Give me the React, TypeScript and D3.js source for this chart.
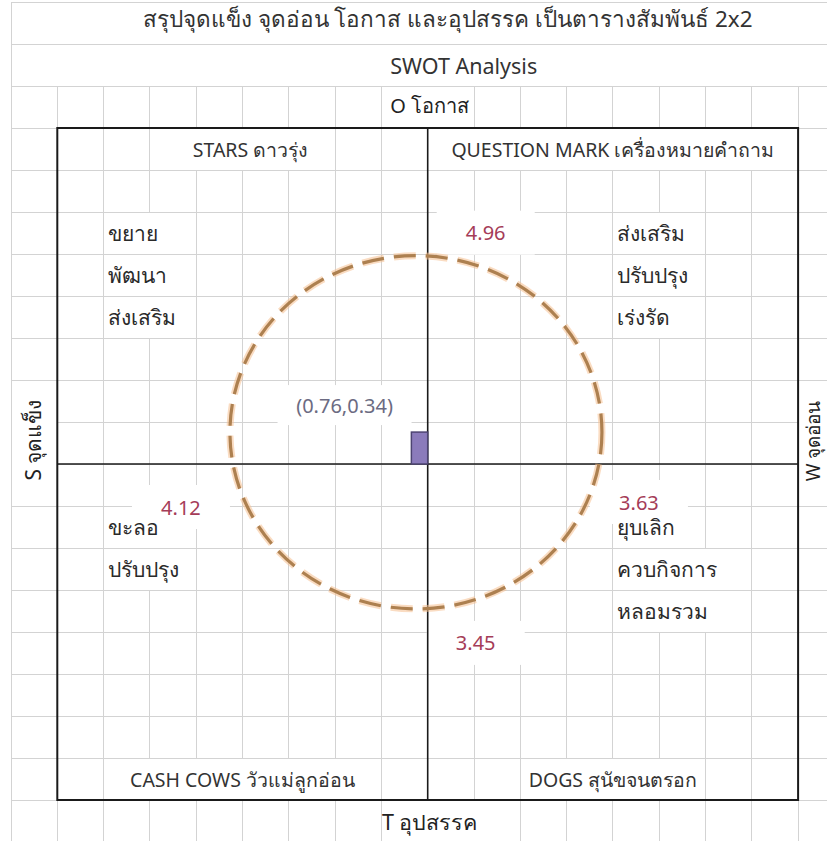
import React, { useEffect, useRef } from 'react';
import * as d3 from 'd3';

// SWOT scores
const axisKeys = ['S', 'W', 'O', 'T'];
const axisScores = [4.12, 3.63, 4.96, 3.45];
const pointValues = [0.76, 0.34];
const pointText = '(0.76,0.34)';

const titleTexts = ['สรุปจุดแข็ง จุดอ่อน โอกาส และอุปสรรค เป็นตารางสัมพันธ์ 2x2', 'SWOT Analysis'];
const axisNames = ['S จุดแข็ง', 'W จุดอ่อน', 'O โอกาส', 'T อุปสรรค'];
const quadrantNames = ['STARS ดาวรุ่ง', 'QUESTION MARK เครื่องหมายคำถาม', 'CASH COWS วัวแม่ลูกอ่อน', 'DOGS สุนัขจนตรอก'];
const strategies = [
  ['ขยาย', 'พัฒนา', 'ส่งเสริม'],
  ['ส่งเสริม', 'ปรับปรุง', 'เร่งรัด'],
  ['ขะลอ', 'ปรับปรุง'],
  ['ยุบเลิก', 'ควบกิจการ', 'หลอมรวม'],
];

const width = 827;
const height = 841;
const FONT = "Tahoma, 'Noto Sans', 'DejaVu Sans', sans-serif";

// spreadsheet grid
const nCols = 18, nRows = 20;
const colW = 46.3, rowH = 42;
const gridLeft = 11, gridTop = 2;
const unitX = 48; // px per chart unit horizontally

export default function App() {
  const ref = useRef<SVGSVGElement>(null);

  useEffect(() => {
    const node = ref.current;
    if (!node) return;
    const svg = d3.select(node);
    svg.selectAll('*').remove();

    const gx = d3.scaleLinear().domain([0, nCols]).range([gridLeft, gridLeft + nCols * colW]);
    const gy = d3.scaleLinear().domain([0, nRows]).range([gridTop, gridTop + nRows * rowH]);
    const midCol = 9, midRow = 11;
    const boxC = [1, 17], boxR = [3, 19];

    // chart scales (value 0 at the cross)
    const x = d3.scaleLinear().domain([-8, 8]).range([gx(midCol) - 8 * unitX, gx(midCol) + 8 * unitX]);
    const y = d3.scaleLinear().domain([-8, 8]).range([gy(boxR[1]), gy(boxR[0])]);

    const gridG = svg.append('g');
    const labelBoxG = svg.append('g');
    const boxG = svg.append('g');
    const chartG = svg.append('g');
    const labelG = svg.append('g');
    const textG = svg.append('g').attr('font-family', FONT);

    // ---- cell texts
    type Cell = { text: string; x: number; y: number; anchor: string; size: number; color: string; rot?: boolean; merged?: boolean };
    const cells: Cell[] = [];
    const rowMid = (r: number) => (gy(r) + gy(r + 1)) / 2;
    cells.push({ text: titleTexts[0], x: gx(midCol) + 20, y: rowMid(0) - 5, anchor: 'middle', size: 22.5, color: '#333', merged: true });
    cells.push({ text: titleTexts[1], x: gx(midCol) + 36, y: rowMid(1), anchor: 'middle', size: 21.5, color: '#333', merged: true });
    cells.push({ text: axisNames[2], x: gx(midCol) + 2, y: rowMid(2) - 2, anchor: 'middle', size: 20, color: '#222' });
    cells.push({ text: axisNames[3], x: gx(midCol) + 2, y: rowMid(boxR[1]), anchor: 'middle', size: 21.5, color: '#222' });
    cells.push({ text: axisNames[0], x: (gx(0) + gx(1)) / 2 - 1, y: gy(midRow) - 24, anchor: 'middle', size: 21, color: '#222', rot: true });
    cells.push({ text: axisNames[1], x: gx(boxC[1]) + 15, y: gy(midRow) - 23, anchor: 'middle', size: 19, color: '#222', rot: true });

    const qx = [gx(5) + 8, gx(13), gx(5), gx(13)];
    const qRow = [boxR[0], boxR[0], boxR[1] - 1, boxR[1] - 1];
    quadrantNames.forEach((q, i) => cells.push({ text: q, x: qx[i], y: rowMid(qRow[i]), anchor: 'middle', size: 19.5, color: '#333' }));

    const sCol = [2, 13, 2, 13];
    const sRow = [5, 5, 12, 12];
    strategies.forEach((list, i) => list.forEach((s, j) => cells.push({
      text: s, x: gx(sCol[i]) + 4, y: rowMid(sRow[i] + j), anchor: 'start', size: 21, color: '#2a2a2a',
    })));

    const textSel = textG.selectAll('text.cell').data(cells).join('text')
      .attr('class', 'cell')
      .attr('transform', d => `translate(${d.x},${d.y})${d.rot ? ' rotate(-90)' : ''}`)
      .attr('text-anchor', d => d.anchor)
      .attr('dominant-baseline', 'central')
      .attr('font-size', d => d.size)
      .attr('fill', d => d.color)
      .text(d => d.text);

    // ---- grid segments, hidden where text overflows across cells
    const hidden = new Set<string>();
    const base = node.getBoundingClientRect();
    textSel.each(function (d) {
      const b = (this as SVGTextElement).getBoundingClientRect();
      const l = b.left - base.left, r = b.right - base.left, t = b.top - base.top, bt = b.bottom - base.top;
      if (d.rot) {
        const c = Math.floor(gx.invert(d.x));
        for (let rr = 0; rr <= nRows; rr++) if (gy(rr) > t + 1 && gy(rr) < bt - 1) hidden.add(`h${c}_${rr}`);
      } else {
        const row = Math.floor(gy.invert(d.y));
        for (let k = 0; k <= nCols; k++) {
          if (d.merged ? k > 0 && k < nCols : gx(k) > l + 1 && gx(k) < r - 1) hidden.add(`v${k}_${row}`);
        }
      }
    });

    const vSegs = d3.cross(d3.range(nCols + 1), d3.range(nRows)).filter(([k, r]) => !hidden.has(`v${k}_${r}`));
    const hSegs = d3.cross(d3.range(nCols), d3.range(nRows + 1)).filter(([k, r]) => !hidden.has(`h${k}_${r}`));
    gridG.attr('stroke', '#d3d3d3').attr('stroke-width', 1).attr('shape-rendering', 'crispEdges');
    gridG.selectAll('line.v').data(vSegs).join('line').attr('class', 'v')
      .attr('x1', d => gx(d[0])).attr('x2', d => gx(d[0]))
      .attr('y1', d => gy(d[1])).attr('y2', d => gy(d[1] + 1));
    gridG.selectAll('line.h').data(hSegs).join('line').attr('class', 'h')
      .attr('x1', d => gx(d[0])).attr('x2', d => gx(d[0] + 1))
      .attr('y1', d => gy(d[1])).attr('y2', d => gy(d[1]));

    // ---- 2x2 box and cross
    boxG.append('rect')
      .attr('x', gx(boxC[0])).attr('y', gy(boxR[0]))
      .attr('width', gx(boxC[1]) - gx(boxC[0])).attr('height', gy(boxR[1]) - gy(boxR[0]))
      .attr('fill', 'none').attr('stroke', '#1a1a1a').attr('stroke-width', 2);
    boxG.append('line')
      .attr('x1', gx(midCol)).attr('x2', gx(midCol)).attr('y1', gy(boxR[0])).attr('y2', gy(boxR[1]))
      .attr('stroke', '#1a1a1a').attr('stroke-width', 1.6);
    boxG.append('line')
      .attr('x1', gx(boxC[0])).attr('x2', gx(boxC[1])).attr('y1', gy(midRow)).attr('y2', gy(midRow))
      .attr('stroke', '#1a1a1a').attr('stroke-width', 1.6);

    // ---- dashed oval through the four scores
    const [sS, sW, sO, sT] = axisScores;
    const cx = (sW - sS) / 2, cy = (sO - sT) / 2;
    const rx = (sS + sW) / 2, ry = (sO + sT) / 2;
    const ell = (g: any) => g.attr('cx', x(cx)).attr('cy', y(cy))
      .attr('rx', x(rx) - x(0)).attr('ry', y(0) - y(ry)).attr('fill', 'none');
    chartG.append('ellipse').call(ell)
      .attr('stroke', '#f6c08f').attr('stroke-opacity', 0.55).attr('stroke-width', 7)
      .attr('stroke-dasharray', '22 10');
    chartG.append('ellipse').call(ell)
      .attr('stroke', '#ad8050').attr('stroke-width', 3.2)
      .attr('stroke-dasharray', '22 10');

    // ---- point marker
    chartG.append('rect')
      .attr('x', x(-pointValues[1])).attr('y', y(pointValues[0]))
      .attr('width', x(0) - x(-pointValues[1])).attr('height', y(0) - y(pointValues[0]))
      .attr('fill', '#8b7bbb').attr('stroke', '#4d4472').attr('stroke-width', 1.5);

    // ---- data labels with white boxes
    const anchors: [number, number][] = [[-sS, 0], [sW, 0], [0, sO], [0, -sT]];
    const offsets: [number, number][] = [[-49, 43], [37, 38], [58, -23], [48, 34]];
    const labels = axisKeys.map((k, i) => ({
      key: k, text: axisScores[i].toFixed(2),
      lx: x(anchors[i][0]) + offsets[i][0], ly: y(anchors[i][1]) + offsets[i][1], w: 98, h: 44, color: '#a53c58',
    }));
    labels.push({ key: 'P', text: pointText, lx: x(-pointValues[1] / 2) - 75, ly: y(pointValues[0]) - 27, w: 134, h: 40, color: '#6b6b82' });

    labelBoxG.selectAll('rect').data(labels).join('rect')
      .attr('x', d => d.lx - d.w / 2).attr('y', d => d.ly - d.h / 2)
      .attr('width', d => d.w).attr('height', d => d.h).attr('fill', '#fff');
    labelG.selectAll('text').data(labels).join('text')
      .attr('x', d => d.lx).attr('y', d => d.ly)
      .attr('text-anchor', 'middle').attr('dominant-baseline', 'central')
      .attr('font-family', FONT).attr('font-size', 20).attr('fill', d => d.color)
      .text(d => d.text);
  }, []);

  return (
    <svg ref={ref} width={width} height={height}
      style={{ position: 'absolute', left: 0, top: 0, background: '#fff', display: 'block' }} />
  );
}
